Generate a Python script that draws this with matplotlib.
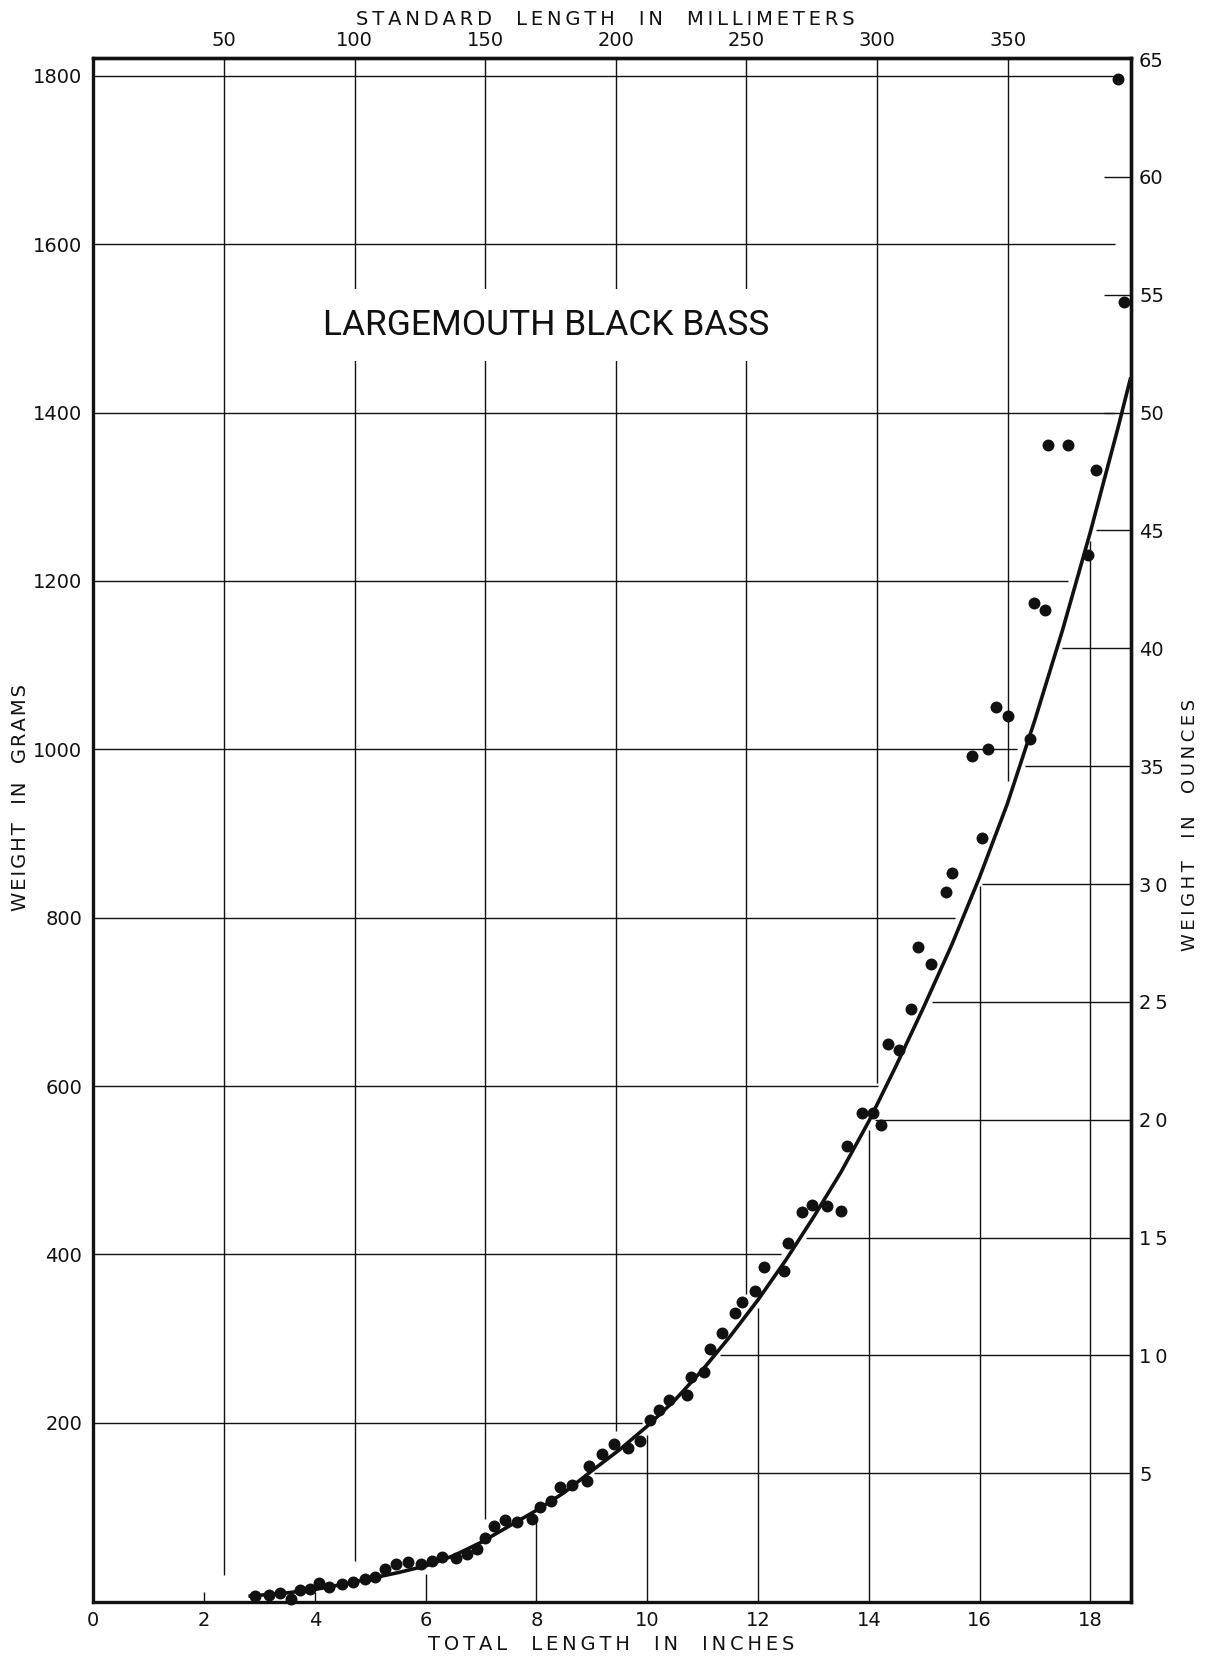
"""Length-weight chart for largemouth black bass with metric and ounce scales."""

import matplotlib.pyplot as plt
import numpy as np

# Individual fish: total length (inches) and weight (grams)
LENGTH_IN = [
    2.91, 3.18, 3.37, 3.57, 3.73, 3.92, 4.08, 4.26, 4.49, 4.69,
    4.90, 5.09, 5.26, 5.47, 5.69, 5.91, 6.11, 6.30, 6.54, 6.74,
    6.93, 7.07, 7.24, 7.44, 7.65, 7.92, 8.06, 8.27, 8.42, 8.65,
    8.92, 8.95, 9.19, 9.40, 9.66, 9.87, 10.05, 10.22, 10.40, 10.71,
    10.79, 11.02, 11.14, 11.35, 11.58, 11.71, 11.95, 12.10, 12.47, 12.55,
    12.80, 12.97, 13.24, 13.49, 13.61, 13.88, 14.08, 14.22, 14.35, 14.55,
    14.77, 14.89, 15.13, 15.40, 15.51, 15.87, 16.04, 16.16, 16.30, 16.51,
    16.92, 16.98, 17.18, 17.24, 17.60, 17.96, 18.10, 18.50, 18.61,
]
WEIGHT_G = [
    -5.8, -4.2, -2.7, -9.4, 1.3, 2.1, 9.2, 5.3, 8.0, 11.2,
    14.0, 17.1, 25.9, 31.8, 34.9, 32.2, 36.1, 40.9, 39.7, 44.1,
    50.4, 62.7, 77.7, 84.5, 82.5, 86.0, 100.3, 107.4, 124.0, 126.0,
    131.1, 149.0, 162.5, 175.0, 170.0, 178.5, 203.0, 215.0, 227.0, 233.0,
    254.0, 260.0, 288.0, 307.0, 331.0, 343.0, 356.0, 385.0, 380.0, 413.0,
    450.0, 459.0, 457.0, 452.0, 529.0, 568.0, 568.0, 554.0, 650.0, 643.0,
    691.0, 765.0, 745.0, 831.0, 853.0, 992.0, 895.0, 1001.0, 1050.0, 1040.0,
    1012.0, 1174.0, 1165.0, 1362.0, 1362.0, 1231.0, 1332.0, 1796.0, 1532.0,
]

# Hand-fitted length-weight curve
CURVE_IN = [
    2.8, 3.5, 4.0, 4.5, 5.0, 5.5, 6.0, 6.5, 7.0, 7.5, 8.0, 8.5,
    9.0, 9.5, 10.0, 10.5, 11.0, 11.5, 12.0, 12.5, 13.0, 13.5, 14.0,
    14.5, 15.0, 15.5, 16.0, 16.5, 17.0, 17.5, 18.0, 18.5, 18.73,
]
CURVE_G = [
    -6, -2, 2, 8, 15, 22, 30, 42, 58, 77, 96, 117,
    143, 168, 196, 227, 263, 303, 346, 393, 444, 498, 558,
    625, 695, 768, 848, 935, 1035, 1142, 1258, 1382, 1442,
]

GRAM_TICKS = [200, 400, 600, 800, 1000, 1200, 1400, 1600, 1800]
INCH_TICKS = [0, 2, 4, 6, 8, 10, 12, 14, 16, 18]
MM_TICKS = [50, 100, 150, 200, 250, 300, 350]
OUNCE_TICKS = [5, 10, 15, 20, 25, 30, 35, 40, 45, 50, 55, 60, 65]
OUNCE_LABELS = ["5", "1\u20090", "1\u20095", "2\u20090", "2\u20095", "3\u20090",
                "35", "40", "45", "50", "55", "60", "65"]

MM_PER_INCH = 21.2  # standard length against total length
GRAMS_PER_OUNCE = 28.0

X_MAX = 18.73
Y_MIN, Y_MAX = -12.6, 1821.0

INK = "#111111"
GRID_LW = 1.0
TICK_SIZE = 14


def spaced(text: str, gap: str = "\u2009") -> str:
    """Open up lettering the way the drafted captions are set."""
    return gap.join(text.replace(" ", "  "))


def curve_length_at(weight: float) -> float:
    return float(np.interp(weight, CURVE_G, CURVE_IN))


def curve_weight_at(length: float) -> float:
    return float(np.interp(length, CURVE_IN, CURVE_G))


def draw_grid(axis: plt.Axes) -> None:
    """Each family of rulings runs in from its own scale and stops at the curve."""
    line_style = {"color": INK, "lw": GRID_LW, "zorder": 1, "solid_capstyle": "butt"}

    # grams: from the left edge
    for grams in GRAM_TICKS:
        end = min(curve_length_at(grams) - 0.15, 18.45)
        axis.plot([0, end], [grams, grams], **line_style)

    # millimetres: from the top edge
    for mm in MM_TICKS:
        x = mm / MM_PER_INCH
        bottom = curve_weight_at(x) + 25
        axis.plot([x, x], [bottom, Y_MAX], **line_style)

    # inches: from the bottom edge
    for inches in INCH_TICKS[1:]:
        top = max(curve_weight_at(inches) - 10, Y_MIN + 12)
        axis.plot([inches, inches], [Y_MIN, top], **line_style)

    # ounces: from the right edge
    for ounces in OUNCE_TICKS[:-1]:
        grams = ounces * GRAMS_PER_OUNCE
        start = min(curve_length_at(grams) + 0.1, 18.25)
        axis.plot([start, X_MAX], [grams, grams], **line_style)


def main() -> None:
    figure = plt.figure(figsize=(12.06, 16.59), dpi=100)
    axis = figure.add_axes([0.0774, 0.0345, 0.8602, 0.9304])

    axis.set_xlim(0, X_MAX)
    axis.set_ylim(Y_MIN, Y_MAX)

    draw_grid(axis)

    axis.plot(CURVE_IN, CURVE_G, color=INK, lw=2.6, zorder=3,
              solid_capstyle="butt")
    axis.plot(LENGTH_IN, WEIGHT_G, "o", color=INK, ms=8.6, mec="none",
              zorder=4, clip_on=False)

    axis.text(8.18, 1504, "LARGEMOUTH BLACK BASS", fontsize=25.5,
              family=["Roboto", "DejaVu Sans"], fontweight="normal", color=INK,
              ha="center", va="center", zorder=2,
              bbox={"boxstyle": "square,pad=0.56", "facecolor": "white",
                    "edgecolor": "none"})

    axis.set_xticks(INCH_TICKS)
    axis.set_yticks(GRAM_TICKS)
    axis.tick_params(axis="x", length=0, pad=7, labelsize=TICK_SIZE, colors=INK)
    axis.tick_params(axis="y", length=0, pad=8, labelsize=TICK_SIZE, colors=INK)

    top = axis.secondary_xaxis(
        "top",
        functions=(lambda x: x * MM_PER_INCH, lambda mm: mm / MM_PER_INCH),
    )
    top.set_xticks(MM_TICKS)
    top.tick_params(length=0, pad=6, labelsize=TICK_SIZE, colors=INK)

    right = axis.secondary_yaxis(
        "right",
        functions=(lambda g: g / GRAMS_PER_OUNCE, lambda oz: oz * GRAMS_PER_OUNCE),
    )
    right.set_yticks(OUNCE_TICKS, labels=OUNCE_LABELS)
    right.tick_params(length=0, pad=6, labelsize=TICK_SIZE, colors=INK)

    for spine in axis.spines.values():
        spine.set_linewidth(2.4)
        spine.set_color(INK)
    for secondary in (top, right):
        for spine in secondary.spines.values():
            spine.set_linewidth(2.4)
            spine.set_color(INK)

    caption = {"color": INK, "ha": "center", "va": "center"}
    figure.text(0.5017, 0.9885, spaced("STANDARD LENGTH IN MILLIMETERS"),
                fontsize=14, **caption)
    figure.text(0.5066, 0.0090, spaced("TOTAL LENGTH IN INCHES"),
                fontsize=14, **caption)
    figure.text(0.0166, 0.5192, spaced("WEIGHT IN GRAMS", "\u200a"),
                fontsize=14, rotation=90, **caption)
    figure.text(0.9867, 0.5027, spaced("WEIGHT IN OUNCES"),
                fontsize=13, rotation=90, **caption)

    figure.savefig("out.png", dpi=100)


if __name__ == "__main__":
    main()
